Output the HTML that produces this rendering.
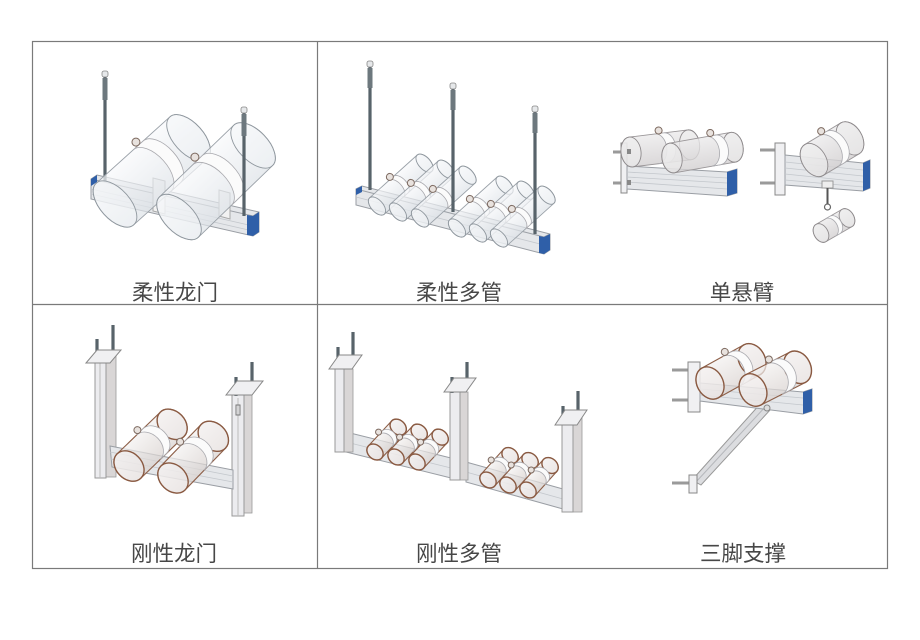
<!DOCTYPE html>
<html>
<head>
<meta charset="utf-8">
<style>
  html,body{margin:0;padding:0;background:#fff;}
  body{width:920px;height:640px;overflow:hidden;}
  svg{display:block;}
  .lbl{font-family:"Liberation Sans","Noto Sans CJK SC",sans-serif;font-size:21.5px;fill:#474747;text-anchor:middle;}
  .pb{fill:url(#gp);fill-opacity:.7;stroke:#9aa1a8;stroke-width:.9;}
  .pe{fill:#f4f6f8;fill-opacity:.45;stroke:#8f979e;stroke-width:.9;}
  .pb2{fill:url(#gp2);fill-opacity:.72;stroke:#8d5f48;stroke-width:1.1;}
  .pe2{fill:#f3f0ef;fill-opacity:.5;stroke:#8a5a42;stroke-width:1.4;}
  .pb3{fill:url(#gp3);fill-opacity:.8;stroke:#9a9698;stroke-width:.9;}
  .pe3{fill:#eeeeef;fill-opacity:.55;stroke:#8e8a8c;stroke-width:.9;}
  .band{fill:#fbfbfb;stroke:#a9a9ae;stroke-width:.8;}
  .lug{fill:#e8e2de;stroke:#7d6a60;stroke-width:1;}
  .ch{fill:#e5e7ea;stroke:#9a9ea4;stroke-width:1;}
  .st{stroke:#c3c7cc;stroke-width:.8;fill:none;}
  .blue{fill:#2f5fa8;}
  .rod{stroke:#58636a;stroke-width:3.2;}
  .cap{fill:#e6e8ea;stroke:#888;stroke-width:.8;}
  .col{fill:#ececef;stroke:#999;stroke-width:1;}
  .cols{fill:#d9d6d6;stroke:#999;stroke-width:.8;}
  .plate{fill:#f0f0f2;stroke:#888;stroke-width:1;}
  .bolt{stroke:#9a9a9a;stroke-width:3;}
</style>
</head>
<body>
<svg width="920" height="640" viewBox="0 0 920 640" xmlns="http://www.w3.org/2000/svg">
<defs>
  <linearGradient id="gp" x1="0" y1="0" x2="0" y2="1">
    <stop offset="0" stop-color="#f8f9fb"/><stop offset="1" stop-color="#dde2e7"/>
  </linearGradient>
  <linearGradient id="gp2" x1="0" y1="0" x2="0" y2="1">
    <stop offset="0" stop-color="#f3f1f0"/><stop offset="1" stop-color="#d9d2cf"/>
  </linearGradient>
  <linearGradient id="gp3" x1="0" y1="0" x2="0" y2="1">
    <stop offset="0" stop-color="#ecebec"/><stop offset="1" stop-color="#d2cfd0"/>
  </linearGradient>
</defs>

<!-- grid -->
<rect x="32.5" y="41.5" width="855" height="527" fill="none" stroke="#7a7a7a" stroke-width="1.2"/>
<line x1="317.5" y1="41" x2="317.5" y2="569" stroke="#7a7a7a" stroke-width="1.2"/>
<line x1="32" y1="304.5" x2="888" y2="304.5" stroke="#7a7a7a" stroke-width="1.2"/>

<!-- ============ Drawing 1: 柔性龙门 ============ -->
<polygon class="ch" points="91,179 97,175 259,212 259,232 253,236 91,199"/>
<polyline points="91,179 253,216 259,212" fill="none" stroke="#9ca0a6"/>
<line class="st" x1="91" y1="189" x2="253" y2="226"/>
<line class="st" x1="91" y1="194" x2="253" y2="231"/>
<polygon class="blue" points="253,216 259,212 259,232 253,236"/>
<polygon class="blue" points="247,215 253,216 253,236 247,235"/>
<polygon class="blue" points="91,179 97,175 97,182 91,186"/>
<polygon points="153,178 165,181 165,214 153,211" fill="#f2f2f2" stroke="#a8a8a8"/>
<polygon points="219,190 230,193 230,219 219,216" fill="#f2f2f2" stroke="#a8a8a8"/>
<line class="rod" x1="105" y1="76" x2="105" y2="181"/>
<rect x="102.5" y="78" width="5" height="22" fill="#6d787e"/>
<rect class="cap" x="102" y="71" width="6" height="6" rx="2"/>
<g transform="translate(115,204) rotate(-42)">
  <path class="pb" d="M0,-28 H99 A15,28 0 0 1 99,28 H0 A15,28 0 0 1 0,-28 Z"/>
  <ellipse class="pe" cx="99" cy="0" rx="15" ry="28"/>
  <path class="band" d="M50,-28 A15,28 0 0 1 50,28 H63 A15,28 0 0 0 63,-28 Z"/>
  <circle class="lug" cx="57" cy="-32" r="4"/>
  <ellipse class="pe" cx="0" cy="0" rx="15" ry="28"/>
</g>
<g transform="translate(179,217) rotate(-44)">
  <path class="pb" d="M0,-28 H103 A15,28 0 0 1 103,28 H0 A15,28 0 0 1 0,-28 Z"/>
  <ellipse class="pe" cx="103" cy="0" rx="15" ry="28"/>
  <path class="band" d="M46,-28 A15,28 0 0 1 46,28 H59 A15,28 0 0 0 59,-28 Z"/>
  <circle class="lug" cx="53" cy="-32" r="4"/>
  <ellipse class="pe" cx="0" cy="0" rx="15" ry="28"/>
</g>
<line class="rod" x1="244" y1="112" x2="244" y2="216"/>
<rect x="241.5" y="114" width="5" height="22" fill="#6d787e"/>
<rect class="cap" x="241" y="107" width="6" height="6" rx="2"/>

<!-- ============ Drawing 2: 柔性多管 ============ -->
<polygon class="ch" points="356,189 362,186 550,234 550,250 544,254 356,205"/>
<polyline points="356,189 544,237 550,234" fill="none" stroke="#9ca0a6"/>
<line class="st" x1="356" y1="197" x2="544" y2="245"/>
<polygon class="blue" points="544,237 550,234 550,250 544,254"/>
<polygon class="blue" points="539,236 544,237 544,254 539,253"/>
<polygon class="blue" points="356,189 362,186 362,192 356,195"/>
<g transform="translate(377,206) rotate(-42)">
  <path class="pb" d="M0,-11 H64 A6,11 0 0 1 64,11 H0 A6,11 0 0 1 0,-11 Z"/>
  <ellipse class="pe" cx="64" rx="6" ry="11"/>
  <path class="band" d="M26,-11 A6,11 0 0 1 26,11 H32 A6,11 0 0 0 32,-11 Z"/>
  <circle class="lug" cx="29" cy="-13" r="3.5"/>
  <ellipse class="pe" cx="0" rx="6" ry="11"/>
</g>
<g transform="translate(398,212) rotate(-42)">
  <path class="pb" d="M0,-11 H64 A6,11 0 0 1 64,11 H0 A6,11 0 0 1 0,-11 Z"/>
  <ellipse class="pe" cx="64" rx="6" ry="11"/>
  <path class="band" d="M26,-11 A6,11 0 0 1 26,11 H32 A6,11 0 0 0 32,-11 Z"/>
  <circle class="lug" cx="29" cy="-13" r="3.5"/>
  <ellipse class="pe" cx="0" rx="6" ry="11"/>
</g>
<g transform="translate(420,218) rotate(-42)">
  <path class="pb" d="M0,-11 H64 A6,11 0 0 1 64,11 H0 A6,11 0 0 1 0,-11 Z"/>
  <ellipse class="pe" cx="64" rx="6" ry="11"/>
  <path class="band" d="M26,-11 A6,11 0 0 1 26,11 H32 A6,11 0 0 0 32,-11 Z"/>
  <circle class="lug" cx="29" cy="-13" r="3.5"/>
  <ellipse class="pe" cx="0" rx="6" ry="11"/>
</g>
<g transform="translate(457,228) rotate(-42)">
  <path class="pb" d="M0,-11 H64 A6,11 0 0 1 64,11 H0 A6,11 0 0 1 0,-11 Z"/>
  <ellipse class="pe" cx="64" rx="6" ry="11"/>
  <path class="band" d="M26,-11 A6,11 0 0 1 26,11 H32 A6,11 0 0 0 32,-11 Z"/>
  <circle class="lug" cx="29" cy="-13" r="3.5"/>
  <ellipse class="pe" cx="0" rx="6" ry="11"/>
</g>
<g transform="translate(478,233) rotate(-42)">
  <path class="pb" d="M0,-11 H64 A6,11 0 0 1 64,11 H0 A6,11 0 0 1 0,-11 Z"/>
  <ellipse class="pe" cx="64" rx="6" ry="11"/>
  <path class="band" d="M26,-11 A6,11 0 0 1 26,11 H32 A6,11 0 0 0 32,-11 Z"/>
  <circle class="lug" cx="29" cy="-13" r="3.5"/>
  <ellipse class="pe" cx="0" rx="6" ry="11"/>
</g>
<g transform="translate(499,238) rotate(-42)">
  <path class="pb" d="M0,-11 H64 A6,11 0 0 1 64,11 H0 A6,11 0 0 1 0,-11 Z"/>
  <ellipse class="pe" cx="64" rx="6" ry="11"/>
  <path class="band" d="M26,-11 A6,11 0 0 1 26,11 H32 A6,11 0 0 0 32,-11 Z"/>
  <circle class="lug" cx="29" cy="-13" r="3.5"/>
  <ellipse class="pe" cx="0" rx="6" ry="11"/>
</g>
<line class="rod" x1="370" y1="66" x2="370" y2="190"/>
<rect x="367.5" y="68" width="5" height="20" fill="#6d787e"/>
<rect class="cap" x="367" y="61" width="6" height="6" rx="2"/>
<line class="rod" x1="453" y1="88" x2="453" y2="212"/>
<rect x="450.5" y="90" width="5" height="20" fill="#6d787e"/>
<rect class="cap" x="450" y="83" width="6" height="6" rx="2"/>
<line class="rod" x1="535" y1="111" x2="535" y2="234"/>
<rect x="532.5" y="113" width="5" height="20" fill="#6d787e"/>
<rect class="cap" x="532" y="106" width="6" height="6" rx="2"/>

<!-- ============ Drawing 3: 单悬臂 (left) ============ -->
<line class="bolt" x1="613" y1="152" x2="623" y2="152"/>
<line class="bolt" x1="613" y1="183" x2="623" y2="183"/>
<rect class="plate" x="621" y="143" width="6" height="50"/>
<polygon class="ch" points="627,166 727,172 737,169 737,193 727,196 627,189"/>
<line class="st" x1="627" y1="172" x2="727" y2="178"/>
<line class="st" x1="627" y1="177" x2="727" y2="183"/>
<line class="st" x1="627" y1="182" x2="727" y2="189"/>
<polygon class="blue" points="727,172 737,169 737,193 727,196"/>
<g transform="translate(631,152) rotate(-7)">
  <path class="pb3" d="M0,-15 H59 A10,15 0 0 1 59,15 H0 A10,15 0 0 1 0,-15 Z"/>
  <ellipse class="pe3" cx="59" rx="10" ry="15"/>
  <path class="band" d="M26,-15 A10,15 0 0 1 26,15 H35 A10,15 0 0 0 35,-15 Z"/>
  <circle class="lug" cx="30" cy="-18" r="3.5"/>
  <ellipse class="pe3" cx="0" rx="10" ry="15"/>
</g>
<g transform="translate(672,158) rotate(-10)">
  <path class="pb3" d="M0,-15 H62 A10,15 0 0 1 62,15 H0 A10,15 0 0 1 0,-15 Z"/>
  <ellipse class="pe3" cx="62" rx="10" ry="15"/>
  <path class="band" d="M38,-15 A10,15 0 0 1 38,15 H47 A10,15 0 0 0 47,-15 Z"/>
  <circle class="lug" cx="42" cy="-18" r="3.5"/>
  <ellipse class="pe3" cx="0" rx="10" ry="15"/>
</g>
<rect x="627" y="149" width="4" height="5" fill="#888"/>
<rect x="627" y="180" width="4" height="5" fill="#888"/>

<!-- ============ Drawing 3: 单悬臂 (right) ============ -->
<line class="bolt" x1="760" y1="150" x2="777" y2="150"/>
<line class="bolt" x1="760" y1="183" x2="777" y2="183"/>
<rect class="plate" x="775" y="143" width="10" height="52"/>
<polygon class="ch" points="785,155 863,163 870,160 870,188 863,191 785,185"/>
<line class="st" x1="785" y1="162" x2="863" y2="170"/>
<line class="st" x1="785" y1="168" x2="863" y2="176"/>
<line class="st" x1="785" y1="174" x2="863" y2="182"/>
<line class="st" x1="785" y1="180" x2="863" y2="187"/>
<polygon class="blue" points="863,163 870,160 870,188 863,191"/>
<g transform="translate(814,160) rotate(-31)">
  <path class="pb3" d="M0,-18 H42 A12,18 0 0 1 42,18 H0 A12,18 0 0 1 0,-18 Z"/>
  <ellipse class="pe3" cx="42" rx="12" ry="18"/>
  <path class="band" d="M17,-18 A12,18 0 0 1 17,18 H25 A12,18 0 0 0 25,-18 Z"/>
  <circle class="lug" cx="21" cy="-21" r="3.5"/>
  <ellipse class="pe3" cx="0" rx="12" ry="18"/>
</g>
<rect x="822" y="181" width="11" height="7" fill="#eee" stroke="#999"/>
<line x1="827.5" y1="188" x2="827.5" y2="204" stroke="#555" stroke-width="2"/>
<circle cx="827.5" cy="207" r="3" fill="none" stroke="#666" stroke-width="1.2"/>
<g transform="translate(821,233) rotate(-30)">
  <path class="pb3" d="M0,-10 H30 A7,10 0 0 1 30,10 H0 A7,10 0 0 1 0,-10 Z"/>
  <ellipse class="pe3" cx="30" rx="7" ry="10"/>
  <path class="band" d="M11,-10 A7,10 0 0 1 11,10 H16 A7,10 0 0 0 16,-10 Z"/>
  <ellipse class="pe3" cx="0" rx="7" ry="10"/>
</g>

<!-- ============ Drawing 4: 刚性龙门 ============ -->
<rect class="cols" x="105" y="356" width="11" height="121"/>
<rect class="col" x="95" y="353" width="11" height="125"/>
<line x1="100" y1="362" x2="100" y2="478" stroke="#bbb"/>
<rect class="cols" x="243" y="392" width="9" height="121"/>
<rect class="col" x="232" y="389" width="12" height="127"/>
<line x1="238" y1="398" x2="238" y2="516" stroke="#bbb"/>
<polygon class="ch" points="110,446 233,470 233,489 112,467"/>
<line class="st" x1="110" y1="452" x2="233" y2="476"/>
<line class="st" x1="111" y1="459" x2="233" y2="482"/>
<g transform="translate(129,466) rotate(-44)">
  <path class="pb2" d="M0,-17 H60 A13,17 0 0 1 60,17 H0 A13,17 0 0 1 0,-17 Z"/>
  <ellipse class="pe2" cx="60" rx="13" ry="17"/>
  <path class="band" d="M27,-17 A13,17 0 0 1 27,17 H36 A13,17 0 0 0 36,-17 Z"/>
  <circle class="lug" cx="31" cy="-20" r="3.5"/>
  <ellipse class="pe2" cx="0" rx="13" ry="17"/>
</g>
<g transform="translate(173,478) rotate(-46)">
  <path class="pb2" d="M0,-17 H58 A13,17 0 0 1 58,17 H0 A13,17 0 0 1 0,-17 Z"/>
  <ellipse class="pe2" cx="58" rx="13" ry="17"/>
  <path class="band" d="M27,-17 A13,17 0 0 1 27,17 H36 A13,17 0 0 0 36,-17 Z"/>
  <circle class="lug" cx="31" cy="-20" r="3.5"/>
  <ellipse class="pe2" cx="0" rx="13" ry="17"/>
</g>
<line class="rod" x1="97" y1="339" x2="97" y2="360"/>
<line class="rod" x1="113" y1="325" x2="113" y2="350"/>
<polygon class="plate" points="86,363 97,350 121,350 110,363"/>
<line class="rod" x1="236" y1="377" x2="236" y2="396"/>
<line class="rod" x1="252" y1="362" x2="252" y2="387"/>
<polygon class="plate" points="226,395 237,381 263,381 252,395"/>
<rect x="236" y="405" width="4" height="10" fill="none" stroke="#777"/>

<!-- ============ Drawing 5: 刚性多管 ============ -->
<polygon class="ch" points="342,431 451,458 451,478 342,451"/>
<line class="st" x1="342" y1="441" x2="451" y2="468"/>
<polygon class="ch" points="466,462 563,489 563,509 466,482"/>
<line class="st" x1="466" y1="472" x2="563" y2="499"/>
<rect class="cols" x="343" y="369" width="10" height="83"/>
<rect class="col" x="335" y="367" width="9" height="85"/>
<rect class="cols" x="459" y="392" width="9" height="88"/>
<rect class="col" x="450" y="390" width="10" height="90"/>
<rect class="cols" x="572" y="417" width="10" height="95"/>
<rect class="col" x="562" y="415" width="11" height="97"/>
<g transform="translate(375,452) rotate(-47)">
  <path class="pb2" d="M0,-9 H34 A7,9 0 0 1 34,9 H0 A7,9 0 0 1 0,-9 Z"/>
  <ellipse class="pe2" cx="34" rx="7" ry="9"/>
  <path class="band" d="M15,-9 A7,9 0 0 1 15,9 H20 A7,9 0 0 0 20,-9 Z"/>
  <circle class="lug" cx="17" cy="-11" r="3"/>
  <ellipse class="pe2" cx="0" rx="7" ry="9"/>
</g>
<g transform="translate(396,457) rotate(-47)">
  <path class="pb2" d="M0,-9 H34 A7,9 0 0 1 34,9 H0 A7,9 0 0 1 0,-9 Z"/>
  <ellipse class="pe2" cx="34" rx="7" ry="9"/>
  <path class="band" d="M15,-9 A7,9 0 0 1 15,9 H20 A7,9 0 0 0 20,-9 Z"/>
  <circle class="lug" cx="17" cy="-11" r="3"/>
  <ellipse class="pe2" cx="0" rx="7" ry="9"/>
</g>
<g transform="translate(417,462) rotate(-47)">
  <path class="pb2" d="M0,-9 H34 A7,9 0 0 1 34,9 H0 A7,9 0 0 1 0,-9 Z"/>
  <ellipse class="pe2" cx="34" rx="7" ry="9"/>
  <path class="band" d="M15,-9 A7,9 0 0 1 15,9 H20 A7,9 0 0 0 20,-9 Z"/>
  <circle class="lug" cx="17" cy="-11" r="3"/>
  <ellipse class="pe2" cx="0" rx="7" ry="9"/>
</g>
<g transform="translate(488,480) rotate(-48)">
  <path class="pb2" d="M0,-9 H33 A7,9 0 0 1 33,9 H0 A7,9 0 0 1 0,-9 Z"/>
  <ellipse class="pe2" cx="33" rx="7" ry="9"/>
  <path class="band" d="M15,-9 A7,9 0 0 1 15,9 H20 A7,9 0 0 0 20,-9 Z"/>
  <circle class="lug" cx="17" cy="-11" r="3"/>
  <ellipse class="pe2" cx="0" rx="7" ry="9"/>
</g>
<g transform="translate(508,485) rotate(-48)">
  <path class="pb2" d="M0,-9 H33 A7,9 0 0 1 33,9 H0 A7,9 0 0 1 0,-9 Z"/>
  <ellipse class="pe2" cx="33" rx="7" ry="9"/>
  <path class="band" d="M15,-9 A7,9 0 0 1 15,9 H20 A7,9 0 0 0 20,-9 Z"/>
  <circle class="lug" cx="17" cy="-11" r="3"/>
  <ellipse class="pe2" cx="0" rx="7" ry="9"/>
</g>
<g transform="translate(528,490) rotate(-48)">
  <path class="pb2" d="M0,-9 H33 A7,9 0 0 1 33,9 H0 A7,9 0 0 1 0,-9 Z"/>
  <ellipse class="pe2" cx="33" rx="7" ry="9"/>
  <path class="band" d="M15,-9 A7,9 0 0 1 15,9 H20 A7,9 0 0 0 20,-9 Z"/>
  <circle class="lug" cx="17" cy="-11" r="3"/>
  <ellipse class="pe2" cx="0" rx="7" ry="9"/>
</g>
<line class="rod" x1="338" y1="347" x2="338" y2="366"/>
<line class="rod" x1="353" y1="332" x2="353" y2="356"/>
<polygon class="plate" points="329,369 339,355 362,355 352,369"/>
<line class="rod" x1="452" y1="377" x2="452" y2="393"/>
<line class="rod" x1="467" y1="362" x2="467" y2="381"/>
<polygon class="plate" points="444,392 454,378 476,378 466,392"/>
<line class="rod" x1="563" y1="406" x2="563" y2="423"/>
<line class="rod" x1="578" y1="391" x2="578" y2="412"/>
<polygon class="plate" points="555,425 565,410 587,410 577,425"/>

<!-- ============ Drawing 6: 三脚支撑 ============ -->
<polygon points="761,403 771,409 701,485 692,480" fill="#dcdde0" stroke="#999"/>
<line x1="766" y1="406" x2="696" y2="482" stroke="#b5b7bb"/>
<line class="bolt" x1="672" y1="483" x2="690" y2="483"/>
<rect class="plate" x="689" y="475" width="8" height="18"/>
<line class="bolt" x1="672" y1="370" x2="690" y2="370"/>
<line class="bolt" x1="672" y1="400" x2="690" y2="400"/>
<rect class="plate" x="688" y="362" width="12" height="50"/>
<polygon class="ch" points="700,383 803,392 812,389 812,411 803,414 700,401"/>
<line class="st" x1="700" y1="389" x2="803" y2="398"/>
<line class="st" x1="700" y1="395" x2="803" y2="405"/>
<polygon class="blue" points="803,392 812,389 812,411 803,414"/>
<g transform="translate(710,383) rotate(-29)">
  <path class="pb2" d="M0,-17 H48 A13,17 0 0 1 48,17 H0 A13,17 0 0 1 0,-17 Z"/>
  <ellipse class="pe2" cx="48" rx="13" ry="17"/>
  <path class="band" d="M24,-17 A13,17 0 0 1 24,17 H33 A13,17 0 0 0 33,-17 Z"/>
  <circle class="lug" cx="28" cy="-20" r="3.5"/>
  <ellipse class="pe2" cx="0" rx="13" ry="17"/>
</g>
<g transform="translate(753,390) rotate(-27)">
  <path class="pb2" d="M0,-17 H50 A13,17 0 0 1 50,17 H0 A13,17 0 0 1 0,-17 Z"/>
  <ellipse class="pe2" cx="50" rx="13" ry="17"/>
  <path class="band" d="M24,-17 A13,17 0 0 1 24,17 H33 A13,17 0 0 0 33,-17 Z"/>
  <circle class="lug" cx="28" cy="-20" r="3.5"/>
  <ellipse class="pe2" cx="0" rx="13" ry="17"/>
</g>
<circle cx="767" cy="408" r="3" fill="#ddd" stroke="#888"/>

<!-- labels -->
<text class="lbl" x="175" y="300">柔性龙门</text>
<text class="lbl" x="459" y="300">柔性多管</text>
<text class="lbl" x="742" y="300">单悬臂</text>
<text class="lbl" x="174" y="561">刚性龙门</text>
<text class="lbl" x="459" y="561">刚性多管</text>
<text class="lbl" x="743" y="561">三脚支撑</text>
</svg>
</body>
</html>
